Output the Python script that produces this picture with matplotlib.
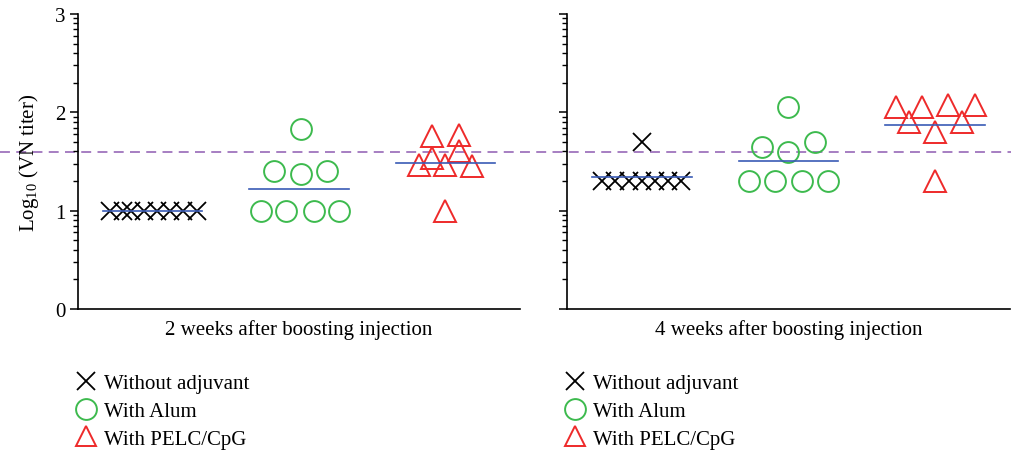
import numpy as np
import matplotlib
matplotlib.use("Agg")
import matplotlib.pyplot as plt
import matplotlib.transforms as mtransforms
from matplotlib.lines import Line2D

plt.rcParams["font.family"] = ["Liberation Serif", "DejaVu Serif"]
plt.rcParams["mathtext.fontset"] = "custom"
plt.rcParams["mathtext.rm"] = "Liberation Serif"
plt.rcParams["mathtext.default"] = "regular"

# groups and panels
groups = ["Without adjuvant", "With Alum", "With PELC/CpG"]
panels = ["2 weeks after boosting injection", "4 weeks after boosting injection"]
cutoff = 1.6

# log10 VN titers (x offsets are the jitter inside a group)
w2_none_x = [-0.29, -0.20, -0.15, -0.06, 0.03, 0.12, 0.21, 0.30]
w2_none_y = [1.0, 1.0, 1.0, 1.0, 1.0, 1.0, 1.0, 1.0]
w2_alum_x = [-0.26, -0.09, 0.10, 0.27, -0.17, 0.01, 0.19, 0.01]
w2_alum_y = [1.0, 1.0, 1.0, 1.0, 1.40, 1.37, 1.40, 1.83]
w2_pelc_x = [-0.09, 0.09, 0.09, -0.09, -0.18, 0.0, 0.18, 0.0]
w2_pelc_y = [1.76, 1.77, 1.61, 1.54, 1.46, 1.46, 1.45, 1.0]
w2_means = [1.0, 1.22, 1.48]

w4_none_x = [-0.27, -0.18, -0.09, 0.0, 0.09, 0.18, 0.27, 0.0]
w4_none_y = [1.30, 1.30, 1.30, 1.30, 1.30, 1.30, 1.30, 1.70]
w4_alum_x = [-0.27, -0.09, 0.09, 0.27, -0.18, 0.0, 0.18, 0.0]
w4_alum_y = [1.30, 1.30, 1.30, 1.30, 1.65, 1.60, 1.70, 2.05]
w4_pelc_x = [-0.27, -0.09, 0.09, 0.27, -0.18, 0.18, 0.0, 0.0]
w4_pelc_y = [2.05, 2.05, 2.07, 2.07, 1.90, 1.90, 1.80, 1.30]
w4_means = [1.34, 1.50, 1.875]

green = "#3dba4e"
red = "#ee2a2a"
blue = "#3a5bb5"
purple = "#9f74bd"

fig = plt.figure(figsize=(10.12, 4.52), dpi=100)
ax1 = fig.add_axes([0.0771, 0.3142, 0.4368, 0.6527])
ax2 = fig.add_axes([0.5603, 0.3142, 0.4377, 0.6527])

data = [
    (ax1, [(w2_none_x, w2_none_y), (w2_alum_x, w2_alum_y), (w2_pelc_x, w2_pelc_y)], w2_means),
    (ax2, [(w4_none_x, w4_none_y), (w4_alum_x, w4_alum_y), (w4_pelc_x, w4_pelc_y)], w4_means),
]

minor = [d + np.log10(k) for d in range(3) for k in range(2, 10)]

# dashed cut-off line across the whole figure
tr = mtransforms.blended_transform_factory(fig.transFigure, ax1.transData)
fig.add_artist(Line2D([0, 1], [cutoff, cutoff], transform=tr, color=purple, lw=1.3,
                      dashes=(5.5, 3.5), zorder=0))

for i, (ax, series, means) in enumerate(data):
    ax.patch.set_visible(False)
    (nx, ny), (ax_, ay), (px, py) = series
    ax.plot(np.array(nx) + 1, ny, ls="none", marker="x", ms=13, mew=1.3, color="black")
    ax.plot(np.array(ax_) + 2, ay, ls="none", marker="o", ms=15, mew=1.4,
            mfc="none", mec=green)
    ax.plot(np.array(px) + 3, py, ls="none", marker="^", ms=16, mew=1.4,
            mfc="none", mec=red)
    for g, m in enumerate(means):
        ax.plot([g + 1 - 0.34, g + 1 + 0.34], [m, m], color=blue, lw=1.2)

    ax.set_xlim(0.49, 3.51)
    ax.set_ylim(0, 3)
    ax.set_xticks([])
    ax.set_yticks([0, 1, 2, 3])
    ax.set_yticks(minor, minor=True)
    ax.tick_params(axis="y", which="major", length=6, width=1.1, labelsize=15, pad=3)
    ax.tick_params(axis="y", which="minor", length=3.5, width=1.0)
    ax.spines["top"].set_visible(False)
    ax.spines["right"].set_visible(False)
    ax.spines["left"].set_linewidth(1.2)
    ax.spines["bottom"].set_linewidth(1.2)
    ax.set_xlabel(panels[i], fontsize=15, labelpad=7)
    if i == 1:
        ax.set_yticklabels([])
    else:
        ax.set_ylabel("Log$_{10}$ (VN titer)", fontsize=15, labelpad=10)

    handles = [
        Line2D([], [], ls="none", marker="x", ms=13, mew=1.3, color="black"),
        Line2D([], [], ls="none", marker="o", ms=15, mew=1.4, mfc="none", mec=green),
        Line2D([], [], ls="none", marker="^", ms=15, mew=1.4, mfc="none", mec=red),
    ]
    ax.legend(handles, groups, loc="upper left", bbox_to_anchor=(-0.025, -0.19),
              frameon=False, fontsize=15, handlelength=1.0, handletextpad=0.4,
              labelspacing=0.4, borderaxespad=0)

fig.savefig("out.png", dpi=100)
